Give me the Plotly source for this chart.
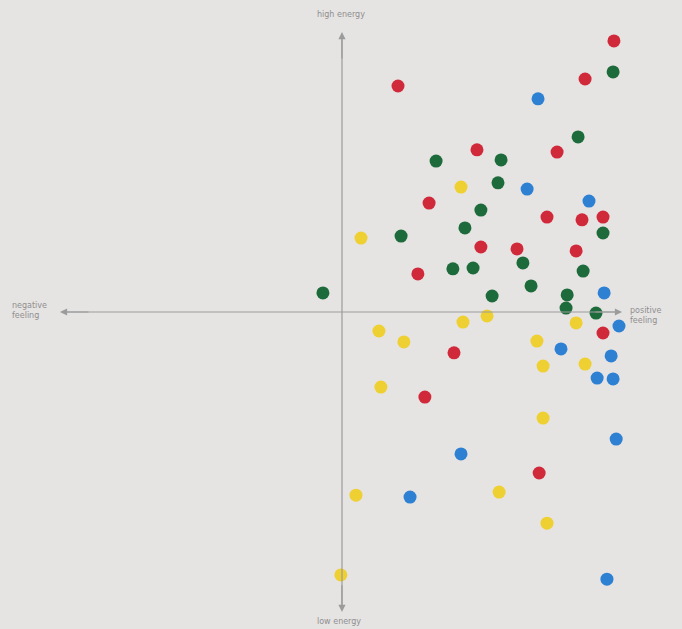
import plotly.graph_objects as go

# Mood-meter dots (x: feeling, y: energy)
red_x = [9.71, 8.68, 2.00, 4.82, 7.68, 3.11, 7.32, 8.57, 9.32, 4.96, 6.25, 8.36, 2.71, 9.32, 4.00, 2.96, 7.04]
red_y = [9.68, 8.32, 8.07, 5.79, 5.71, 3.89, 3.39, 3.29, 3.39, 2.32, 2.25, 2.18, 1.36, -0.75, -1.46, -3.04, -5.75]

green_x = [9.68, 8.43, 3.36, 5.68, 5.57, 4.96, 2.11, 4.39, 9.32, 6.46, 3.96, 4.68, 8.61, -0.68, 5.36, 6.75, 8.04, 8.00, 9.07]
green_y = [8.57, 6.25, 5.39, 5.43, 4.61, 3.64, 2.71, 3.00, 2.82, 1.75, 1.54, 1.57, 1.46, 0.68, 0.57, 0.93, 0.61, 0.14, -0.04]

blue_x = [7.00, 6.61, 8.82, 9.36, 9.89, 7.82, 9.61, 9.11, 9.68, 9.79, 4.25, 2.43, 9.46]
blue_y = [7.61, 4.39, 3.96, 0.68, -0.50, -1.32, -1.57, -2.36, -2.39, -4.54, -5.07, -6.61, -9.54]

yellow_x = [4.25, 0.68, 5.18, 4.32, 8.36, 1.32, 2.21, 6.96, 7.18, 8.68, 1.39, 7.18, 0.50, 5.61, 7.32, -0.04]
yellow_y = [4.46, 2.64, -0.14, -0.36, -0.39, -0.68, -1.07, -1.04, -1.93, -1.86, -2.68, -3.79, -6.54, -6.43, -7.54, -9.39]

axis_labels = ["high energy", "low energy", "negative<br>feeling", "positive<br>feeling"]

series = [
    ("red", red_x, red_y, "#d02a3a"),
    ("green", green_x, green_y, "#1d6b3a"),
    ("blue", blue_x, blue_y, "#2e80d2"),
    ("yellow", yellow_x, yellow_y, "#efd032"),
]

fig = go.Figure()
for name, xs, ys, col in series:
    fig.add_trace(go.Scatter(x=xs, y=ys, mode="markers", name=name,
                             marker=dict(size=13, color=col, line=dict(width=0))))

axis_col = "#9b9b9b"
# axis lines
fig.add_shape(type="line", x0=0, y0=-10.6, x1=0, y1=9.9, line=dict(color=axis_col, width=1.2))
fig.add_shape(type="line", x0=-9.95, y0=0, x1=9.9, y1=0, line=dict(color=axis_col, width=1.2))
# arrowheads at both ends
arrows = [
    (0, 10.0, 0, 9.0),
    (0, -10.71, 0, -9.7),
    (10.0, 0, 9.0, 0),
    (-10.07, 0, -9.0, 0),
]
for hx, hy, tx, ty in arrows:
    fig.add_annotation(x=hx, y=hy, ax=tx, ay=ty, xref="x", yref="y", axref="x", ayref="y",
                       text="", showarrow=True, arrowhead=2, arrowsize=1.2,
                       arrowwidth=1.2, arrowcolor=axis_col, standoff=0, startstandoff=0)

font = dict(family="DejaVu Sans", size=8, color="#8f8f8f")
fig.add_annotation(x=-0.04, y=10.64, text=axis_labels[0], showarrow=False, font=font)
fig.add_annotation(x=-0.1, y=-11.05, text=axis_labels[1], showarrow=False, font=font)
fig.add_annotation(x=-11.15, y=0.04, text=axis_labels[2], showarrow=False, font=font, align="left")
fig.add_annotation(x=10.85, y=-0.14, text=axis_labels[3], showarrow=False, font=font, align="left")

fig.update_layout(
    width=682, height=629,
    margin=dict(l=0, r=0, t=0, b=0),
    paper_bgcolor="#e6e3e3", plot_bgcolor="#e6e3e3",
    showlegend=False,
    xaxis=dict(range=[-12.21, 12.14], visible=False, fixedrange=True),
    yaxis=dict(range=[-11.32, 11.14], visible=False, fixedrange=True),
)

fig.write_html("out.html", config={"displayModeBar": False},
               post_script="document.body.style.margin='0';document.body.style.overflow='hidden';"
                           "document.body.style.background='#e6e3e3';")
